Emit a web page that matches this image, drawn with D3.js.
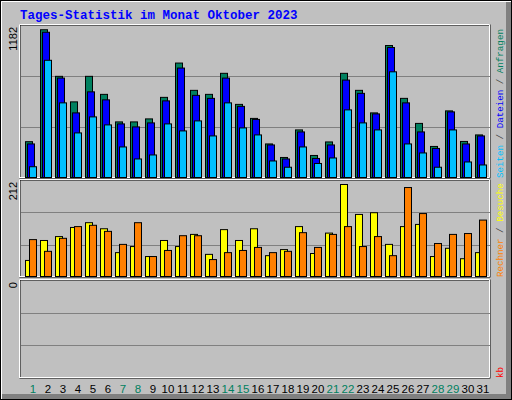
<!DOCTYPE html>
<html>
<head>
<meta charset="utf-8">
<script src="https://cdn.jsdelivr.net/npm/d3@7"></script>
<style>
  body { margin: 0; background: #fff; }
  svg text { font-family: "Liberation Sans", Arial, sans-serif; }
</style>
</head>
<body>
<svg id="chart" width="512" height="400"></svg>
<script>
const days = d3.range(1, 32);
const weekend = [1, 7, 8, 14, 15, 21, 22, 28, 29];

// Anfragen / Dateien / Seiten
const hits = [286, 1180, 808, 604, 808, 664, 444, 444, 468, 640, 914, 696, 664, 832, 584, 472,
  268, 160, 380, 176, 284, 832, 696, 516, 1054, 632, 432, 248, 532, 288, 340];
const files = [268, 1160, 794, 516, 684, 620, 428, 404, 436, 612, 874, 656, 632, 794, 568, 464,
  260, 148, 364, 152, 260, 778, 672, 508, 1038, 596, 364, 232, 524, 268, 332];
const pages = [86, 936, 596, 356, 484, 420, 244, 148, 180, 428, 372, 452, 332, 596, 396, 340,
  132, 82, 244, 112, 156, 540, 436, 380, 844, 268, 196, 82, 380, 124, 100];
// Besuche / Rechner
const visits = [37, 83, 92, 113, 124, 110, 55, 69, 46, 83, 69, 97, 51, 108, 83, 110,
  48, 62, 115, 53, 100, 212, 143, 147, 74, 115, 120, 46, 65, 41, 55];
const hosts = [85, 58, 88, 115, 118, 104, 74, 124, 46, 60, 94, 94, 39, 55, 60, 67,
  55, 58, 101, 67, 97, 115, 69, 92, 48, 205, 145, 76, 97, 99, 130];
const kb = days.map(() => 0);

const svg = d3.select("#chart");
const L = 20, R = 490;
const x = d3.scaleBand().domain(days).range([L + 5, L + 5 + 31 * 15]).padding(0);

// background & 3d border
svg.append("rect").attr("width", 512).attr("height", 400).attr("fill", "#c0c0c0");
svg.append("path").attr("d", "M1.5,399V1.5H511").attr("stroke", "#fff").attr("fill", "none");
svg.append("rect").attr("x", 506).attr("y", 2).attr("width", 6).attr("height", 398).attr("fill", "#808080");
svg.append("rect").attr("x", 2).attr("y", 394).attr("width", 510).attr("height", 6).attr("fill", "#808080");
svg.append("rect").attr("x", 0.5).attr("y", 0.5).attr("width", 511).attr("height", 399)
  .attr("fill", "none").attr("stroke", "#000");

svg.append("text").attr("x", 20).attr("y", 19)
  .style("font-family", "'Liberation Mono', 'DejaVu Sans Mono', monospace")
  .style("font-weight", "bold").style("font-size", "12.5px").attr("fill", "#0000ff")
  .text("Tages-Statistik im Monat Oktober 2023");

function panel(top, bottom, max, series, labelTop, labels) {
  svg.append("rect").attr("x", L).attr("y", top).attr("width", R - L).attr("height", bottom - top)
    .attr("fill", "#c0c0c0").attr("stroke", "#000").attr("stroke-width", 1);
  svg.append("path").attr("d", `M${L + 0.5},${bottom + 0.5}V${top + 0.5}H${R + 0.5}V${bottom + 0.5}H${L}`)
    .attr("fill", "none").attr("stroke", "#fff").attr("stroke-width", 1).attr("transform", "translate(-1,-1)");
  const h = bottom - top;
  [1 / 3, 2 / 3].forEach(f => {
    svg.append("line").attr("x1", L + 1).attr("x2", R).attr("y1", Math.round(top + h * f) + 0.5)
      .attr("y2", Math.round(top + h * f) + 0.5).attr("stroke", "#808080");
  });
  const y = d3.scaleLinear().domain([0, max || 1]).range([bottom - 1, labelTop]);
  series.forEach(s => {
    svg.append("g").selectAll("rect").data(s.values).join("rect")
      .attr("x", (d, i) => x(days[i]) + s.dx + 0.5)
      .attr("y", d => y(d) + 0.5)
      .attr("width", 7).attr("height", d => Math.max(0, y(0) - y(d)))
      .attr("fill", s.color).attr("stroke", "#000").attr("stroke-width", 1)
      .attr("display", d => d > 0 ? null : "none");
  });
  svg.append("text").attr("transform", `translate(17,${top + 2}) rotate(-90)`)
    .attr("text-anchor", "end").style("font-size", "11px").attr("fill", "#000").text(max);
  const t = svg.append("text").attr("transform", `translate(503,${bottom}) rotate(-90)`)
    .style("font-family", "'Liberation Mono', 'DejaVu Sans Mono', monospace").style("font-size", "9.2px");
  labels.forEach((lb, i) => {
    if (i) t.append("tspan").attr("fill", "#404040").text(" / ");
    t.append("tspan").attr("fill", lb[1]).text(lb[0]);
  });
}

panel(25, 178, 1182, [
  { values: hits, color: "#00805f", dx: 0 },
  { values: files, color: "#0000ff", dx: 2 },
  { values: pages, color: "#00c0ff", dx: 4 }
], 29, [["Seiten", "#00c0ff"], ["Dateien", "#0000ff"], ["Anfragen", "#00805f"]]);

panel(180, 277, 212, [
  { values: visits, color: "#ffff00", dx: 0 },
  { values: hosts, color: "#ff8000", dx: 4 }
], 184, [["Rechner", "#ff8000"], ["Besuche", "#ffff00"]]);

panel(280, 378, 0, [
  { values: kb, color: "#ff0000", dx: 0 }
], 284, [["kb", "#ff0000"]]);

svg.append("g").selectAll("text").data(days).join("text")
  .attr("x", d => x(d) + 8).attr("y", 393).attr("text-anchor", "middle")
  .style("font-size", "11.5px")
  .attr("fill", d => weekend.includes(d) ? "#00805f" : "#000")
  .text(d => d);
</script>
</body>
</html>
